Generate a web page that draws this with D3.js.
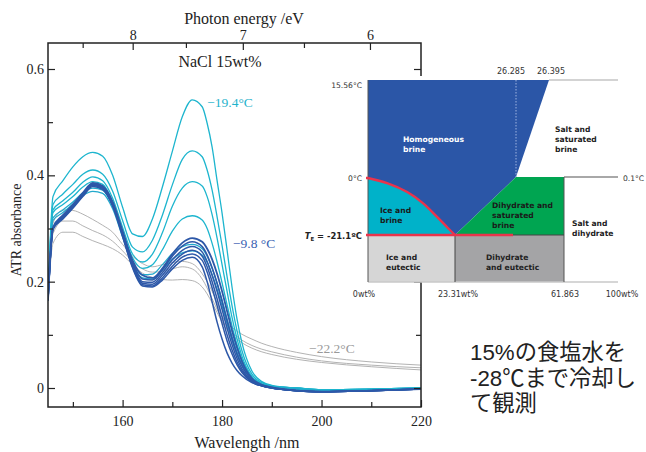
<!DOCTYPE html>
<html><head><meta charset="utf-8">
<script src="https://cdn.jsdelivr.net/npm/d3@7"></script>
<style>body{margin:0;background:#fff;} svg{display:block}</style>
</head><body>
<script>
// ---------- DATA ----------
const wavelengths = [145,146,148,150,152,154,156,158,160,162,164,166,168,170,172,174,176,177,178,179,180,181,182,183,184,186,188,190,195,200,210,220];

// cyan (cooling, up to -19.4 °C)
const cyan1 = [0.165,0.36,0.39,0.416,0.435,0.443,0.436,0.40,0.34,0.29,0.285,0.318,0.378,0.445,0.51,0.542,0.529,0.498,0.453,0.39,0.329,0.26,0.19,0.13,0.085,0.032,0.012,0.005,0.0,-0.003,-0.002,0.0];
const cyan2 = [0.165,0.345,0.365,0.383,0.402,0.41,0.402,0.37,0.315,0.265,0.256,0.278,0.325,0.382,0.43,0.446,0.435,0.41,0.372,0.322,0.268,0.21,0.155,0.108,0.07,0.026,0.01,0.004,0,-0.003,-0.002,0];
const cyan3 = [0.165,0.335,0.352,0.368,0.387,0.397,0.39,0.357,0.302,0.252,0.237,0.252,0.292,0.342,0.376,0.388,0.38,0.36,0.326,0.282,0.232,0.182,0.133,0.093,0.06,0.022,0.008,0.003,0,-0.003,-0.002,0];
const cyan4 = [0.165,0.33,0.345,0.36,0.378,0.388,0.383,0.35,0.295,0.245,0.225,0.232,0.26,0.295,0.318,0.324,0.316,0.3,0.272,0.237,0.198,0.157,0.117,0.082,0.054,0.02,0.007,0.003,0,-0.003,-0.002,0];
const cyan5 = [0.165,0.32,0.335,0.35,0.367,0.376,0.372,0.342,0.288,0.237,0.213,0.214,0.232,0.253,0.266,0.27,0.262,0.248,0.225,0.197,0.165,0.13,0.097,0.068,0.045,0.017,0.006,0.002,-0.002,-0.005,-0.004,-0.002];
const cyan6 = [0.165,0.315,0.33,0.346,0.362,0.37,0.366,0.337,0.284,0.232,0.207,0.205,0.222,0.242,0.254,0.258,0.25,0.236,0.213,0.186,0.155,0.121,0.09,0.063,0.042,0.016,0.006,0.002,-0.002,-0.005,-0.004,-0.002];

// blue bundle (around -9.8 °C)
const blue1 = [0.165,0.302,0.325,0.345,0.367,0.386,0.38,0.35,0.295,0.24,0.212,0.207,0.225,0.252,0.273,0.282,0.275,0.262,0.242,0.215,0.182,0.145,0.108,0.076,0.05,0.018,0.006,0.001,-0.005,-0.007,-0.005,-0.002];
const blue2 = [0.165,0.3,0.323,0.343,0.365,0.384,0.378,0.348,0.292,0.236,0.205,0.203,0.222,0.248,0.267,0.275,0.266,0.25,0.226,0.197,0.163,0.127,0.093,0.064,0.042,0.015,0.005,0.001,-0.005,-0.007,-0.005,-0.002];
const blue3 = [0.165,0.3,0.322,0.342,0.364,0.383,0.377,0.346,0.29,0.233,0.2,0.199,0.217,0.241,0.259,0.266,0.256,0.238,0.212,0.182,0.148,0.113,0.082,0.056,0.036,0.013,0.004,0,-0.005,-0.007,-0.005,-0.002];
const blue4 = [0.165,0.3,0.321,0.341,0.363,0.382,0.376,0.345,0.288,0.23,0.197,0.195,0.212,0.235,0.252,0.259,0.248,0.228,0.2,0.168,0.134,0.1,0.072,0.049,0.032,0.012,0.004,0,-0.005,-0.007,-0.005,-0.002];
const blue5 = [0.165,0.3,0.32,0.34,0.362,0.381,0.375,0.344,0.287,0.228,0.194,0.192,0.207,0.229,0.246,0.252,0.24,0.218,0.188,0.155,0.121,0.089,0.064,0.044,0.029,0.011,0.004,0,-0.005,-0.007,-0.005,-0.002];
const blue6 = [0.165,0.298,0.318,0.338,0.36,0.379,0.373,0.342,0.285,0.226,0.192,0.19,0.203,0.224,0.24,0.246,0.228,0.2,0.162,0.124,0.092,0.066,0.047,0.033,0.023,0.01,0.004,0,-0.005,-0.007,-0.005,-0.002];

// gray (frozen, -22.2 °C and below)
const gray1 = [0.165,0.31,0.335,0.334,0.327,0.317,0.306,0.293,0.27,0.248,0.234,0.228,0.232,0.236,0.238,0.234,0.215,0.2,0.182,0.16,0.135,0.123,0.114,0.107,0.101,0.092,0.084,0.078,0.067,0.059,0.049,0.043];
const gray2 = [0.165,0.29,0.314,0.314,0.305,0.296,0.288,0.276,0.258,0.238,0.224,0.218,0.219,0.224,0.228,0.224,0.205,0.188,0.168,0.148,0.128,0.115,0.105,0.097,0.09,0.08,0.073,0.068,0.058,0.051,0.043,0.038];
const gray3 = [0.165,0.272,0.293,0.293,0.285,0.277,0.27,0.262,0.25,0.232,0.216,0.208,0.204,0.203,0.204,0.202,0.19,0.177,0.16,0.142,0.124,0.11,0.1,0.092,0.085,0.075,0.068,0.063,0.054,0.048,0.04,0.034];

const yMajor = [0, 0.2, 0.4, 0.6];
const yMinor = [0.1, 0.3, 0.5];
const xMajor = [160, 180, 200, 220];
const xMinor = [150, 170, 190, 210];
const eMajor = [8, 7, 6];
const eMinor = [8.5, 7.5, 6.5];

const curveLabels = [
  {text: "\u221219.4\u00B0C", wl: 177, v: 0.528, color: "#1fb3cc"},
  {text: "\u22129.8 \u00B0C", wl: 182.2, v: 0.263, color: "#3a5fb2"},
  {text: "\u221222.2\u00B0C", wl: 197.5, v: 0.065, color: "#9a9a9a"}
];

// phase diagram (schematic)
const liquidus = [[0,0],[5.1,-1.9],[10.5,-5.2],[14.7,-9.3],[18.5,-14.4],[21.4,-18.5],[23.31,-21.1]];
const wtLabels = [{wt:0,t:"0wt%"},{wt:23.31,t:"23.31wt%"},{wt:61.863,t:"61.863"},{wt:100,t:"100wt%"}];
const noteLines = ["15%の食塩水を", "-28\u2103まで冷却し", "て観測"];

// ---------- CHART ----------
const W = 646, H = 452;
const svg = d3.select("body").append("svg").attr("width", W).attr("height", H);
const L = 48, R = 421, T = 43, B = 407;
const x = d3.scaleLinear().domain([145, 220]).range([L, R]);
const y = d3.scaleLinear().domain([0, 0.6]).range([388, 69]);
const eScale = d3.scaleLog().domain([8.865, 5.64]).range([L, R]);

svg.append("defs").append("clipPath").attr("id", "clip")
  .append("rect").attr("x", L).attr("y", T).attr("width", R - L).attr("height", B - T);

const line = d3.line().x((d, i) => x(wavelengths[i])).y(d => y(d)).curve(d3.curveMonotoneX);
const plot = svg.append("g").attr("clip-path", "url(#clip)");
const series = [
  {d: gray1, c: "#b3b3b3", w: 1}, {d: gray2, c: "#b3b3b3", w: 1}, {d: gray3, c: "#b3b3b3", w: 1},
  {d: cyan1, c: "#1db5ce", w: 1.3}, {d: cyan2, c: "#1db5ce", w: 1.3}, {d: cyan3, c: "#1db5ce", w: 1.3},
  {d: cyan4, c: "#1db5ce", w: 1.3}, {d: cyan5, c: "#22a9cc", w: 1.3}, {d: cyan6, c: "#22a9cc", w: 1.3},
  {d: blue6, c: "#2d58a8", w: 1.5}, {d: blue5, c: "#2d58a8", w: 1.5}, {d: blue4, c: "#2d58a8", w: 1.5},
  {d: blue3, c: "#2d58a8", w: 1.5}, {d: blue2, c: "#2d58a8", w: 1.6}, {d: blue1, c: "#2d58a8", w: 1.8}
];
plot.selectAll("path.s").data(series).join("path").attr("class", "s")
  .attr("d", s => line(s.d)).attr("fill", "none").attr("stroke", s => s.c).attr("stroke-width", s => s.w)
  .attr("stroke-linejoin", "round");

// axes
const serif = "'Liberation Serif','Times New Roman',serif";
function styleAxis(g) {
  g.select(".domain").remove();
  g.selectAll("line").attr("stroke", "#222").attr("stroke-width", 1.2);
  g.selectAll("text").attr("font-family", serif).attr("font-size", 14).attr("fill", "#222");
}
const fmt = d => d === 0 ? "0" : d3.format(".1f")(d);
svg.append("g").attr("transform", `translate(${L},0)`).call(d3.axisLeft(y).tickValues(yMajor).tickSize(-7).tickPadding(4).tickFormat(fmt)).call(styleAxis);
svg.append("g").attr("transform", `translate(${L},0)`).call(d3.axisLeft(y).tickValues(yMinor).tickSize(-5).tickFormat("")).call(styleAxis);
svg.append("g").attr("transform", `translate(${R},0)`).call(d3.axisRight(y).tickValues(yMajor).tickSize(-7).tickFormat("")).call(styleAxis);
svg.append("g").attr("transform", `translate(${R},0)`).call(d3.axisRight(y).tickValues(yMinor).tickSize(-5).tickFormat("")).call(styleAxis);
svg.append("g").attr("transform", `translate(0,${B})`).call(d3.axisBottom(x).tickValues(xMajor).tickSize(-7).tickPadding(9)).call(styleAxis);
svg.append("g").attr("transform", `translate(0,${B})`).call(d3.axisBottom(x).tickValues(xMinor).tickSize(-5).tickFormat("")).call(styleAxis);
svg.append("g").attr("transform", `translate(0,${T})`).call(d3.axisTop(eScale).tickValues(eMajor).tickSize(-7).tickPadding(3).tickFormat(d3.format("d"))).call(styleAxis);
svg.append("g").attr("transform", `translate(0,${T})`).call(d3.axisTop(eScale).tickValues(eMinor).tickSize(-5).tickFormat("")).call(styleAxis);

svg.append("rect").attr("x", L).attr("y", T).attr("width", R - L).attr("height", B - T)
  .attr("fill", "none").attr("stroke", "#222").attr("stroke-width", 1.5);

// titles
svg.append("text").attr("x", 244).attr("y", 24).attr("text-anchor", "middle").attr("font-family", serif).attr("font-size", 16).attr("fill", "#222").text("Photon energy /eV");
svg.append("text").attr("x", 247).attr("y", 448).attr("text-anchor", "middle").attr("font-family", serif).attr("font-size", 16).attr("fill", "#222").text("Wavelength /nm");
svg.append("text").attr("transform", "translate(21,230) rotate(-90)").attr("text-anchor", "middle").attr("font-family", serif).attr("font-size", 14).attr("fill", "#222").text("ATR absorbance");
svg.append("text").attr("x", 220).attr("y", 67).attr("text-anchor", "middle").attr("font-family", serif).attr("font-size", 16).attr("fill", "#222").text("NaCl 15wt%");

svg.selectAll("text.cl").data(curveLabels).join("text").attr("class", "cl")
  .attr("x", d => x(d.wl)).attr("y", d => y(d.v)).attr("font-family", serif).attr("font-size", 13.5)
  .attr("fill", d => d.color).text(d => d.text);

// ---------- INSET PHASE DIAGRAM ----------
const pw = d3.scaleLinear().domain([0, 23.31, 26.285, 26.395, 61.863, 100]).range([368, 455, 516, 549, 564, 618]);
const pt = d3.scaleLinear().domain([15.56, 0.1, 0, -21.1, -30]).range([80, 177, 178, 235, 282]);
const inset = svg.append("g");
inset.append("rect").attr("x", 326).attr("y", 76).attr("width", 320).attr("height", 206).attr("fill", "#fff");
const poly = pts => "M" + pts.map(p => pw(p[0]) + "," + pt(p[1])).join("L") + "Z";
const Tb = -30;
inset.append("path").attr("d", poly([[0,15.56],[26.395,15.56],[26.285,0.1],[23.31,-21.1],[0,-21.1]])).attr("fill", "#2b56a7");
const liqLine = d3.line().x(p => pw(p[0])).y(p => pt(p[1])).curve(d3.curveCatmullRom);
inset.append("path").attr("d", liqLine(liquidus) + `L${pw(0)},${pt(-21.1)}Z`).attr("fill", "#00b2c9");
inset.append("path").attr("d", poly([[23.31,-21.1],[26.285,0.1],[61.863,0.1],[61.863,-21.1]])).attr("fill", "#00a551");
inset.append("path").attr("d", poly([[0,-21.1],[23.31,-21.1],[23.31,Tb],[0,Tb]])).attr("fill", "#d6d6d6");
inset.append("path").attr("d", poly([[23.31,-21.1],[61.863,-21.1],[61.863,Tb],[23.31,Tb]])).attr("fill", "#a4a4a6");

const seg = (a, b, c, w, dash) => inset.append("line").attr("x1", pw(a[0])).attr("y1", pt(a[1])).attr("x2", pw(b[0])).attr("y2", pt(b[1]))
  .attr("stroke", c).attr("stroke-width", w).attr("stroke-dasharray", dash || null);
seg([26.395,15.56],[100,15.56],"#c4c4c4",1.5);
seg([61.863,0.1],[100,0.1],"#a8a8a8",2);
seg([0,Tb],[100,Tb],"#c8c8c8",1.5);
seg([0,15.56],[0,Tb],"#555",1);
seg([23.31,-21.1],[23.31,Tb],"#444",1);
seg([61.863,0.1],[61.863,Tb],"#555",1);
seg([23.31,-21.1],[61.863,-21.1],"#444",1);
seg([26.285,15.56],[26.285,0.1],"#9fb3e0",1,"1.5,1.5");
// red lines
inset.append("path").attr("d", liqLine(liquidus)).attr("fill", "none").attr("stroke", "#e9344c").attr("stroke-width", 2.4);
inset.append("line").attr("x1", pw(0) - 2).attr("x2", pw(26.14)).attr("y1", pt(-21.1)).attr("y2", pt(-21.1)).attr("stroke", "#e9344c").attr("stroke-width", 2.4);
inset.append("line").attr("x1", pw(0) - 2).attr("x2", pw(0)).attr("y1", pt(0)).attr("y2", pt(0)).attr("stroke", "#e9344c").attr("stroke-width", 2.4);

const sans = "'DejaVu Sans',Verdana,sans-serif";
const itext = (tx, ty, s, opt = {}) => inset.append("text").attr("x", tx).attr("y", ty).text(s)
  .attr("font-family", sans).attr("font-size", opt.size || 8).attr("font-weight", opt.bold ? "bold" : "normal")
  .attr("fill", opt.color || "#333").attr("text-anchor", opt.anchor || "start");
itext(362, 88, "15.56\u00B0C", {anchor: "end", size: 7.6});
itext(362, 181, "0\u00B0C", {anchor: "end", size: 7.6});
itext(pw(26.285) - 5, 74, "26.285", {anchor: "middle"});
itext(pw(26.395) + 2, 74, "26.395", {anchor: "middle"});
itext(623, 180.5, "0.1\u00B0C", {size: 7.6});
inset.selectAll("text.wt").data(wtLabels).join("text").attr("class", "wt")
  .attr("x", d => pw(d.wt) + (d.wt === 0 ? -4 : d.wt === 100 ? 4 : d.wt > 50 ? 1 : 3)).attr("y", 297)
  .attr("text-anchor", "middle").attr("font-family", sans).attr("font-size", 8).attr("fill", "#333").text(d => d.t);

const te = inset.append("text").attr("x", 362).attr("y", 238.5).attr("text-anchor", "end")
  .attr("font-family", sans).attr("font-size", 8.4).attr("font-weight", "bold").attr("fill", "#222");
te.append("tspan").attr("font-style", "italic").text("T");
te.append("tspan").attr("font-size", 5.5).attr("dy", 2).text("E");
te.append("tspan").attr("dy", -2).text(" = -21.1\u00BAC");

const regionLabels = [
  {x: 403, y: 141.5, lines: ["Homogeneous", "brine"], c: "#fff"},
  {x: 555, y: 131.5, lines: ["Salt and", "saturated", "brine"], c: "#222"},
  {x: 380, y: 212.5, lines: ["Ice and", "brine"], c: "#1a1a1a"},
  {x: 492, y: 207.5, lines: ["Dihydrate and", "saturated", "brine"], c: "#1a1a1a"},
  {x: 572, y: 225.5, lines: ["Salt and", "dihydrate"], c: "#222"},
  {x: 386, y: 259.5, lines: ["Ice and", "eutectic"], c: "#222"},
  {x: 486, y: 259.5, lines: ["Dihydrate", "and eutectic"], c: "#222"}
];
regionLabels.forEach(r => r.lines.forEach((s, i) => itext(r.x, r.y + i * 10, s, {bold: true, size: 7.6, color: r.c})));

// ---------- NOTE ----------
const note = svg.append("g");
note.selectAll("text").data(noteLines).join("text")
  .attr("x", 470).attr("y", (d, i) => 360 + i * 25.5)
  .attr("font-family", "'Liberation Sans','Noto Sans CJK JP',sans-serif").attr("font-size", 22.3).attr("fill", "#222")
  .text(d => d);
</script>
</body></html>
